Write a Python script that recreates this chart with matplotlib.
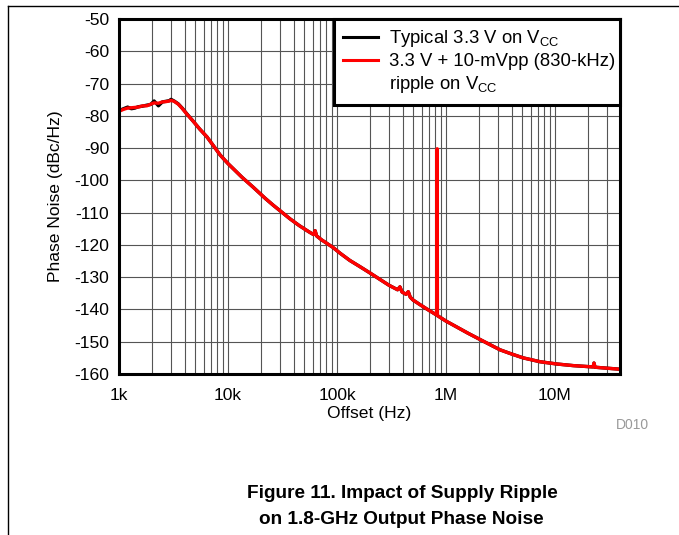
import numpy as np
import matplotlib
matplotlib.use("Agg")
import matplotlib.pyplot as plt
from matplotlib.lines import Line2D
from matplotlib.ticker import FixedLocator, FixedFormatter, LogLocator, NullFormatter

plt.rcParams['font.family'] = ['Liberation Sans', 'DejaVu Sans']
plt.rcParams['mathtext.fontset'] = 'custom'
plt.rcParams['mathtext.rm'] = 'Liberation Sans'
plt.rcParams['mathtext.it'] = 'Liberation Sans:italic'
plt.rcParams['axes.unicode_minus'] = False

# offset frequency (Hz)
offset_hz = [1000, 1100, 1200, 1300, 1400, 1500, 1650, 1800, 1950, 2100,
             2300, 2500, 2700, 2900, 3000, 3200, 3500, 3800, 4200, 4800,
             5500, 6400, 7400, 8500, 10000, 11500, 13500, 17000, 22000, 26000,
             30000, 37000, 45000, 55000, 61000, 63000, 65000, 72000, 92000, 107000,
             131000, 160000, 201000, 248000, 300000, 360000, 378000, 395000, 430000, 451000,
             470000, 500000, 577000, 700000, 800000, 825000, 830000, 835000, 870000, 1000000,
             1250000, 1600000, 2050000, 2600000, 3130000, 4000000, 5100000, 7300000, 10400000, 14700000,
             20000000, 22400000, 22800000, 23300000, 30000000, 39000000]

# typical 3.3 V supply (dBc/Hz)
pn_typical = [-78.4, -77.8, -77.3, -77.8, -77.6, -77.2, -77.0, -76.7, -76.5, -75.4,
              -76.9, -75.7, -75.5, -75.3, -74.9, -75.4, -76.3, -77.6, -79.4, -81.7,
              -84.1, -86.5, -89.4, -92.2, -94.8, -96.8, -99.1, -102.1, -105.6, -107.7,
              -109.4, -111.9, -114.0, -115.9, -116.8, -115.6, -117.2, -118.4, -120.8, -122.6,
              -124.8, -126.6, -128.7, -130.7, -132.5, -133.9, -133.0, -134.6, -135.3, -134.5,
              -136.2, -137.1, -138.5, -140.3, -141.5, -141.7, -141.8, -141.9, -142.3, -143.6,
              -145.4, -147.4, -149.3, -151.1, -152.5, -153.8, -155.0, -156.2, -156.9, -157.4,
              -157.7, -157.8, -156.6, -157.9, -158.2, -158.5]

# 3.3 V + 10-mVpp ripple at 830 kHz (dBc/Hz)
pn_ripple = [-78.6, -78.0, -77.6, -77.5, -77.4, -77.3, -76.9, -76.9, -76.4, -76.0,
             -76.1, -75.7, -75.6, -75.4, -75.2, -75.5, -76.4, -77.7, -79.5, -81.7,
             -84.1, -86.5, -89.4, -92.2, -94.8, -96.8, -99.1, -102.1, -105.6, -107.7,
             -109.4, -111.9, -114.0, -115.9, -116.8, -115.6, -117.2, -118.4, -120.8, -122.6,
             -124.8, -126.6, -128.7, -130.7, -132.5, -133.9, -133.0, -134.6, -135.3, -134.5,
             -136.2, -137.1, -138.5, -140.3, -141.5, -141.7, -90.2, -141.9, -142.3, -143.6,
             -145.4, -147.4, -149.3, -151.1, -152.5, -153.8, -155.0, -156.2, -156.9, -157.4,
             -157.7, -157.8, -156.6, -157.9, -158.2, -158.5]

x_ticks = [1e3, 1e4, 1e5, 1e6, 1e7]
x_labels = ['1k', '10k', '100k', '1M', '10M']
y_ticks = list(range(-160, -49, 10))

fig = plt.figure(figsize=(6.79, 5.35), dpi=100)
ax = fig.add_axes([119 / 679, 1 - 374 / 535, (620 - 119) / 679, (374 - 19) / 535])

ax.plot(offset_hz, pn_typical, color='black', lw=2.4, label='Typical 3.3 V on V$_{\\mathregular{CC}}$')
ax.plot(offset_hz, pn_ripple, color='#ff0000', lw=2.4, label='3.3 V + 10-mVpp (830-kHz)')

ax.set_xscale('log')
ax.set_xlim(1e3, 3.95e7)
ax.set_ylim(-160, -50)
ax.xaxis.set_major_locator(FixedLocator(x_ticks))
ax.xaxis.set_major_formatter(FixedFormatter(x_labels))
ax.xaxis.set_minor_locator(LogLocator(base=10, subs=np.arange(2, 10), numticks=20))
ax.xaxis.set_minor_formatter(NullFormatter())
ax.set_yticks(y_ticks)

ax.grid(True, which='both', axis='x', color='#555555', lw=0.8)
ax.grid(True, which='major', axis='y', color='#555555', lw=0.8)
ax.set_axisbelow(True)
ax.tick_params(which='both', length=0)
ax.tick_params(axis='x', pad=10, labelsize=12.6)
ax.tick_params(axis='y', pad=7, labelsize=12.6)
for sp in ax.spines.values():
    sp.set_linewidth(2.2)
    sp.set_color('black')

ax.set_xlabel('Offset (Hz)', fontsize=12.6, labelpad=2)
ax.set_ylabel('Phase Noise (dBc/Hz)', fontsize=12.6, labelpad=8)

handles, labels = ax.get_legend_handles_labels()
handles.append(Line2D([], [], color='none'))
labels.append('ripple on V$_{\\mathregular{CC}}$')
leg = ax.legend(handles, labels, loc='upper left', bbox_to_anchor=(0.429, 0, 0.571, 1.0),
                mode='expand', borderaxespad=0, fancybox=False, framealpha=1,
                edgecolor='black', fontsize=13.3, handlelength=1.9, handletextpad=0.6,
                labelspacing=0.22, borderpad=0.5)
leg.get_frame().set_linewidth(2.2)
for ln in leg.get_lines():
    ln.set_linewidth(2.2)

# page frame lines
fig.add_artist(Line2D([8 / 679, 1], [1 - 6 / 535, 1 - 6 / 535], color='black', lw=1.0))
fig.add_artist(Line2D([8 / 679, 8 / 679], [0, 1 - 6 / 535], color='black', lw=1.0))

fig.text(632 / 679, 1 - 425 / 535, 'D010', ha='center', va='center', color='#999999', fontsize=10)
fig.text(402 / 679, 1 - 494 / 535, 'Figure 11. Impact of Supply Ripple',
         ha='center', va='center', fontsize=13.7, fontweight='bold')
fig.text(401 / 679, 1 - 520 / 535, 'on 1.8-GHz Output Phase Noise',
         ha='center', va='center', fontsize=13.7, fontweight='bold')

fig.savefig('out.png', dpi=100)
